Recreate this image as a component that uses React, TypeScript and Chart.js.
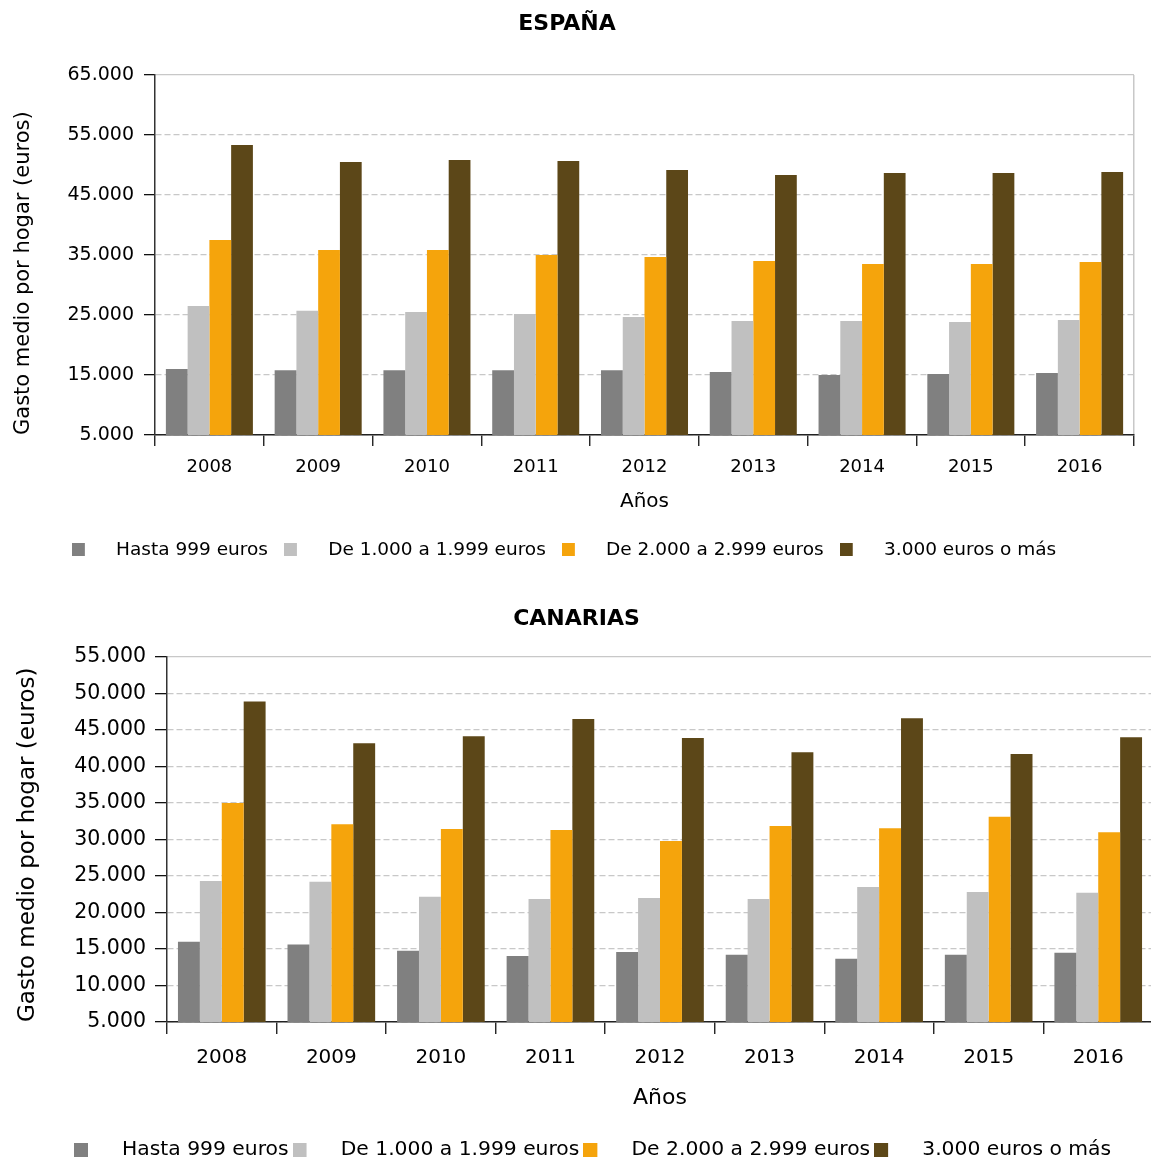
import React, { useEffect, useRef } from 'react';
import { Chart, registerables } from 'chart.js';

Chart.register(...registerables);

const FONT = "'DejaVu Sans', sans-serif";

const YEARS = ['2008', '2009', '2010', '2011', '2012', '2013', '2014', '2015', '2016'];
const SERIES_NAMES = ['Hasta 999 euros', 'De 1.000 a 1.999 euros', 'De 2.000 a 2.999 euros', '3.000 euros o más'];
const SERIES_COLORS = ['#808080', '#c0c0c0', '#f5a40c', '#5c4718'];

// ESPAÑA
const ESP_HASTA_999 = [16000, 15800, 15800, 15800, 15800, 15500, 15000, 15150, 15350];
const ESP_1000_1999 = [26500, 25700, 25500, 25150, 24650, 24000, 24000, 23850, 24150];
const ESP_2000_2999 = [37500, 35850, 35850, 35000, 34650, 34000, 33500, 33500, 33850];
const ESP_3000_MAS = [53350, 50500, 50850, 50650, 49150, 48350, 48650, 48650, 48850];
const ESP_Y_TICKS = [5000, 15000, 25000, 35000, 45000, 55000, 65000];

// CANARIAS
const CAN_HASTA_999 = [16000, 15600, 14750, 14050, 14600, 14200, 13650, 14200, 14500];
const CAN_1000_1999 = [24300, 24200, 22150, 21850, 22000, 21850, 23500, 22800, 22700];
const CAN_2000_2999 = [35000, 32100, 31450, 31300, 29800, 31850, 31550, 33100, 31000];
const CAN_3000_MAS = [48900, 43200, 44150, 46500, 43900, 41950, 46600, 41700, 44000];
const CAN_Y_TICKS = [5000, 10000, 15000, 20000, 25000, 30000, 35000, 40000, 45000, 50000, 55000];

const Y_TITLE = 'Gasto medio por hogar (euros)';
const X_TITLE = 'Años';

const fmt = (v: number) => String(Math.round(v)).replace(/\B(?=(\d{3})+(?!\d))/g, '.');

type L = {
  width: number; height: number; padRight: number;
  titleSize: number; titlePadTop: number; titlePadBottom: number;
  yWidth: number; yTickSize: number; yTickLen: number; yTickPad: number;
  yTitleSize: number; yTitlePad: number;
  xHeight: number; xTickSize: number; xTickLen: number; xTickPad: number;
  xTitleSize: number; xTitlePadBottom: number;
  legendSize: number; legendPad: number; legendBox: number; legendSwatch: number; legendShift: number;
  rightBorder: boolean;
};

function makeSwatch(color: string, w: number, size: number) {
  const c = document.createElement('canvas');
  c.width = Math.round(w);
  c.height = size;
  const g = c.getContext('2d')!;
  g.fillStyle = color;
  g.fillRect(0, 0, size, size);
  return c;
}

function makeChart(canvas: HTMLCanvasElement, title: string, series: number[][], ticks: number[], l: L) {
  const min = ticks[0];
  const max = ticks[ticks.length - 1];
  const swatches = SERIES_COLORS.map((c) => makeSwatch(c, l.legendBox, l.legendSwatch));
  const shift = {
    id: 'shiftLegend',
    afterLayout(chart: any) {
      const lg = chart.legend;
      if (lg && l.legendShift) {
        lg.left += l.legendShift;
        lg.right += l.legendShift;
      }
    },
  };
  return new Chart(canvas, {
    type: 'bar',
    data: {
      labels: YEARS,
      datasets: series.map((d, i) => ({
        label: SERIES_NAMES[i],
        data: d,
        backgroundColor: SERIES_COLORS[i],
        borderWidth: 0,
        categoryPercentage: 0.8,
        barPercentage: 1.0,
      })),
    },
    plugins: [shift],
    options: {
      animation: false,
      responsive: false,
      maintainAspectRatio: false,
      devicePixelRatio: 1,
      layout: { padding: { left: 0, right: l.padRight, top: 0, bottom: 0 } },
      plugins: {
        title: {
          display: true,
          text: title,
          color: '#000',
          font: { family: FONT, size: l.titleSize, weight: 'bold' },
          padding: { top: l.titlePadTop, bottom: l.titlePadBottom },
        },
        legend: {
          position: 'bottom',
          labels: {
            usePointStyle: true,
            pointStyleWidth: l.legendBox,
            padding: l.legendPad,
            color: '#000',
            font: { family: FONT, size: l.legendSize },
            generateLabels: (chart: any) => {
              const items = (Chart.defaults.plugins.legend.labels as any).generateLabels(chart);
              return items.map((it: any, i: number) => ({ ...it, pointStyle: swatches[i] }));
            },
          },
        },
        tooltip: { enabled: false },
      },
      scales: {
        x: {
          grid: {
            offset: true,
            drawOnChartArea: l.rightBorder,
            color: (c: any) => (c.type === 'scale' ? '#c8c8c8' : 'rgba(0,0,0,0)'),
            lineWidth: 1.5,
            tickLength: l.xTickLen,
            tickColor: '#111',
            tickWidth: 1.3,
          },
          border: { color: '#222', width: 1.5 },
          ticks: {
            color: '#000',
            font: { family: FONT, size: l.xTickSize },
            padding: l.xTickPad,
            maxRotation: 0,
            autoSkip: false,
          },
          title: {
            display: true,
            text: X_TITLE,
            color: '#000',
            font: { family: FONT, size: l.xTitleSize },
            padding: { top: 0, bottom: l.xTitlePadBottom },
          },
          afterFit: (s: any) => {
            s.height = l.xHeight;
          },
        },
        y: {
          min,
          max,
          afterBuildTicks: (s: any) => {
            s.ticks = ticks.map((v) => ({ value: v }));
          },
          grid: {
            color: '#c8c8c8',
            lineWidth: 1.3,
            tickLength: l.yTickLen,
            tickColor: '#111',
            tickWidth: 1.3,
            tickBorderDash: [],
          },
          border: {
            color: '#333',
            width: 1.5,
            dash: (c: any) => (c.tick && c.tick.value === max ? [] : [6, 3]),
          },
          ticks: {
            color: '#000',
            font: { family: FONT, size: l.yTickSize },
            padding: l.yTickPad,
            autoSkip: false,
            callback: (v: any) => fmt(Number(v)),
          },
          title: {
            display: true,
            text: Y_TITLE,
            align: 'start',
            color: '#000',
            font: { family: FONT, size: l.yTitleSize },
            padding: { top: l.yTitlePad, bottom: 0 },
          },
          afterFit: (s: any) => {
            s.width = l.yWidth;
          },
        },
      },
    } as any,
  });
}

const TOP: L = {
  width: 1151, height: 569, padRight: 17,
  titleSize: 22, titlePadTop: 10.8, titlePadBottom: 37.8,
  yWidth: 155, yTickSize: 19, yTickLen: 11, yTickPad: 10,
  yTitleSize: 21, yTitlePad: 11,
  xHeight: 89.5, xTickSize: 18, xTickLen: 11, xTickPad: 11,
  xTitleSize: 20, xTitlePadBottom: 10.5,
  legendSize: 18.5, legendPad: 16, legendBox: 35, legendSwatch: 13, legendShift: -3,
  rightBorder: true,
};

const BOTTOM: L = {
  width: 1160, height: 601, padRight: 7,
  titleSize: 22, titlePadTop: 36.8, titlePadBottom: 24.8,
  yWidth: 167, yTickSize: 20.5, yTickLen: 12, yTickPad: 9,
  yTitleSize: 23, yTitlePad: 14,
  xHeight: 113.7, xTickSize: 20, xTickLen: 12, xTickPad: 12,
  xTitleSize: 22, xTitlePadBottom: 24.5,
  legendSize: 20.3, legendPad: 4, legendBox: 38, legendSwatch: 14, legendShift: 16,
  rightBorder: false,
};

export default function App() {
  const topRef = useRef<HTMLCanvasElement>(null);
  const botRef = useRef<HTMLCanvasElement>(null);

  useEffect(() => {
    const c1 = makeChart(
      topRef.current!,
      'ESPAÑA',
      [ESP_HASTA_999, ESP_1000_1999, ESP_2000_2999, ESP_3000_MAS],
      ESP_Y_TICKS,
      TOP
    );
    const c2 = makeChart(
      botRef.current!,
      'CANARIAS',
      [CAN_HASTA_999, CAN_1000_1999, CAN_2000_2999, CAN_3000_MAS],
      CAN_Y_TICKS,
      BOTTOM
    );
    return () => {
      c1.destroy();
      c2.destroy();
    };
  }, []);

  return (
    <div
      style={{
        position: 'absolute',
        left: 0,
        top: 0,
        width: 1151,
        height: 1162,
        overflow: 'hidden',
        background: '#fff',
      }}
    >
      <canvas
        ref={topRef}
        width={TOP.width}
        height={TOP.height}
        style={{ position: 'absolute', left: 0, top: 0, width: TOP.width, height: TOP.height }}
      />
      <canvas
        ref={botRef}
        width={BOTTOM.width}
        height={BOTTOM.height}
        style={{ position: 'absolute', left: 0, top: 569, width: BOTTOM.width, height: BOTTOM.height }}
      />
    </div>
  );
}
